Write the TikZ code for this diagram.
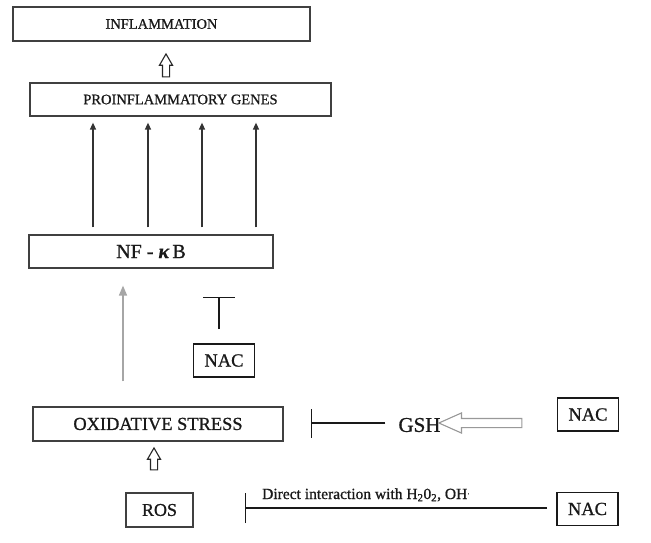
\documentclass[tikz,border=0pt]{standalone}
\usepackage{fontspec}
\setmainfont{Liberation Serif}[FakeBold=0.9]
\usetikzlibrary{arrows.meta,shapes.arrows}
\begin{document}
\begin{tikzpicture}[x=1pt,y=-1pt,
  box/.style={draw=black!75,line width=1.2pt,inner sep=0pt,text=black!90},
  nacbox/.style={draw=black!90,line width=1.8pt,inner sep=0pt,minimum width=61pt,minimum height=33pt,text=black!90,font=\fontsize{18.5}{20}\selectfont},
  up/.style={draw=black!80,line width=1.4pt,-{Triangle[length=7pt,width=6pt]}},
  inh/.style={draw=black!90,line width=1.8pt},
  hollow/.style={single arrow,draw=black!85,line width=1.1pt,fill=white,inner sep=3pt,single arrow head extend=3pt,single arrow tip angle=60,shape border rotate=90,minimum height=23pt}
]
\useasboundingbox (0,0) rectangle (651,542);

\node[box,minimum width=297pt,minimum height=34pt,font=\fontsize{14.5}{16}\selectfont] (infl) at (161.5,24) {INFLAMMATION};
\node[box,minimum width=301pt,minimum height=33pt,font=\fontsize{14.5}{16}\selectfont] (genes) at (180.5,99.5) {PROINFLAMMATORY GENES};
\node[box,minimum width=244pt,minimum height=33pt,font=\fontsize{20}{22}\selectfont] (nfkb) at (151,251.5) {NF - {\bfseries\itshape κ}\,B};
\node[nacbox] (nac1) at (224,360.5) {NAC};
\node[box,minimum width=250pt,minimum height=34pt,font=\fontsize{18.4}{20}\selectfont] (ox) at (158,424) {OXIDATIVE STRESS};
\node[box,minimum width=67pt,minimum height=34pt,font=\fontsize{18}{20}\selectfont] (ros) at (159.5,510) {ROS};
\node[inner sep=0pt,text=black!90,font=\fontsize{21}{23}\selectfont] (gsh) at (419.5,425) {GSH};
\node[nacbox] (nac2) at (588,414.5) {NAC};
\node[nacbox] (nac3) at (587.5,509) {NAC};

\node[hollow] (ha1) at (166,68.5) {};
\node[hollow,minimum height=22pt] (ha2) at (154,462) {};
\node[hollow,draw=black!40,shape border rotate=180,minimum height=83pt,inner sep=4pt,single arrow head extend=5.5pt,single arrow tip angle=48] (ha3) at (485.5,423) {};

\foreach \x in {93,148,202,256}
  \draw[up,shorten <=7pt,shorten >=6pt] (nfkb.north -| \x,0) -- (genes.south -| \x,0);

\draw[draw=black!35,line width=1.6pt,-{Triangle[length=10pt,width=8pt]},shorten <=25pt,shorten >=17pt] (ox.north -| 123,0) -- (nfkb.south -| 123,0);

\draw[inh,-{Bar[width=32pt]},shorten <=14pt,shorten >=28pt] (219,0 |- nac1.north) -- (219,0 |- nfkb.south);
\draw[inh,-{Bar[width=29pt]},shorten <=13pt,shorten >=27pt] (gsh.west |- 0,423) -- (ox.east |- 0,423);
\draw[inh,-{Bar[width=30pt]},shorten <=9pt,shorten >=51pt] (nac3.west |- 0,508) -- (ros.east |- 0,508);

\node[inner sep=0pt,anchor=base west,text=black!90,font=\fontsize{15.5}{17}\selectfont] (lbl) at (262,499) {Direct interaction with H\textsubscript{2}0\textsubscript{2}, OH\raisebox{0.4ex}{\scriptsize·}};
\end{tikzpicture}
\end{document}
